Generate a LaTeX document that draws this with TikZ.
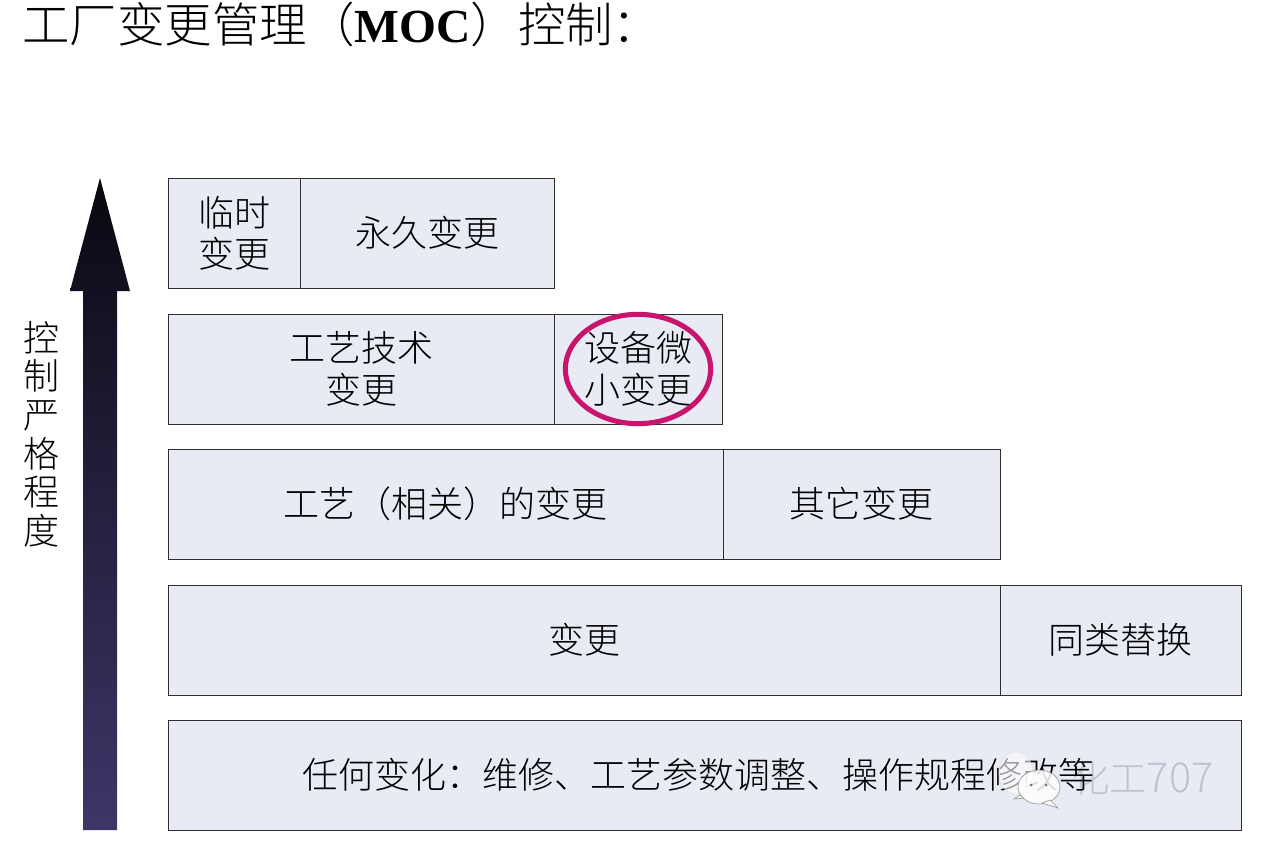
\documentclass[tikz,border=0pt]{standalone}
\usepackage{fontspec}
\usetikzlibrary{shapes.geometric}
\setmainfont{Liberation Serif}
\newfontfamily\cjk{Noto Sans CJK SC Light}
\definecolor{cellfill}{HTML}{E8EAF4}
\definecolor{celledge}{HTML}{2E2E2E}
\definecolor{ringcol}{HTML}{C8146C}
\definecolor{marktext}{HTML}{BFC3CF}
\tikzset{
  x=0.75pt,y=-0.75pt,
  cell/.style={draw=celledge,line width=0.7pt,fill=cellfill,inner sep=0pt,align=center,
    font=\cjk\fontsize{27}{31}\selectfont,text=black},
  lab/.style={inner sep=0pt,align=center,text=black,font=\cjk\fontsize{27}{29}\selectfont},
  bubble/.style={draw=black!40,line width=0.5pt,fill=white,fill opacity=0.85},
  fadebubble/.style={draw=black!12,line width=0.4pt,fill=white,fill opacity=0.6},
  bubbleeye/.style={fill=black!55}
}
\newcommand{\cellbox}[6]{%
  \pgfmathsetmacro{\cw}{(#4-#3)*0.75}%
  \pgfmathsetmacro{\ch}{(#6-#5)*0.75}%
  \node[cell,minimum width=\cw pt,minimum height=\ch pt] (#1) at ({(#3+#4)/2},{(#5+#6)/2}) {#2};}
\begin{document}
\begin{tikzpicture}
\useasboundingbox (0,0) rectangle (1261,846);
\node[anchor=west,inner sep=0pt,text=black,font=\cjk\fontsize{35.6}{40}\selectfont] (title) at (22,24)
  {工厂变更管理（{\rmfamily\bfseries MOC}）控制：};
\shade[bottom color={rgb,255:red,62;green,54;blue,104},top color={rgb,255:red,8;green,8;blue,16},middle color={rgb,255:red,36;green,32;blue,62}]
  (100,178) -- (130,291) -- (117,291) -- (117,830) -- (83,830) -- (83,291) -- (70,291) -- cycle;
\node[lab] (vlabel) at (41,434) {控\\制\\严\\格\\程\\度};
\cellbox{a1}{临时\\变更}{168}{300}{178}{288}
\cellbox{a2}{永久变更}{300}{554}{178}{288}
\cellbox{b1}{工艺技术\\变更}{168}{554}{314}{424}
\cellbox{b2}{设备微\\小变更}{554}{722}{314}{424}
\cellbox{c1}{工艺（相关）的变更}{168}{723}{449}{559}
\cellbox{c2}{其它变更}{723}{1000}{449}{559}
\cellbox{d1}{变更}{168}{1000}{585}{695}
\cellbox{d2}{同类替换}{1000}{1241}{585}{695}
\cellbox{e1}{}{168}{1241}{720}{830}
\node[inner sep=0pt,anchor=west,text=marktext,font=\cjk\fontsize{28}{32}\selectfont] (mark) at (1072,778) {化工\fontsize{31}{32}\selectfont 707};
\node[inner sep=0pt,anchor=west,text=black,font=\cjk\fontsize{27}{30}\selectfont] (etext) at (302,775) {任何变化：维修、工艺参数调整、操作规程修改等};
\node[draw=ringcol,line width=3.8pt,ellipse,minimum width=109pt,minimum height=82pt,inner sep=0pt] (ring) at (638,369) {};
% watermark bubbles
\draw[fadebubble] (1016,773) ellipse [x radius=17,y radius=21];
\draw[bubble] (1020,795) -- (1014,799) -- (1026,798) -- cycle;
\draw[bubble] (1039,787) ellipse [x radius=21,y radius=17];
\draw[bubble] (1050,800) -- (1058,808) -- (1042,803) -- cycle;
\fill[bubbleeye] (1031,785) circle [radius=1.5];
\fill[bubbleeye] (1046,785) circle [radius=1.5];
\end{tikzpicture}
\end{document}
